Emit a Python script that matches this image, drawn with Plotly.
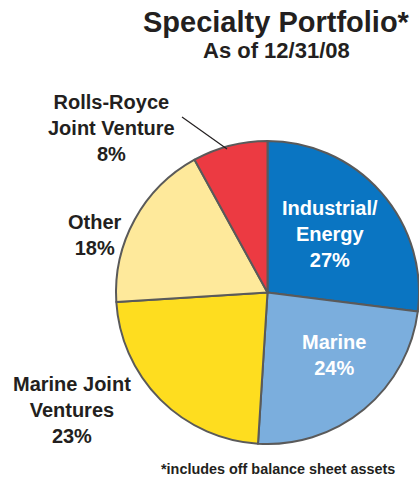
import plotly.graph_objects as go

W, H = 419, 478

labels = ["Industrial/<br>Energy", "Marine", "Marine Joint<br>Ventures", "Other", "Rolls-Royce<br>Joint Venture"]
values = [27, 24, 23, 18, 8]
colors = ["#0A75C2", "#7BAEDD", "#FEDD1F", "#FEE99B", "#EC3A42"]
text_colors = ["white", "white", "#231F20", "#231F20", "#231F20"]
# label centre positions in pixels (x from left, y from top)
label_pos = [(330, 234), (334, 355), (72, 410), (95, 235), (111, 128)]

title = "Specialty Portfolio*"
subtitle = "As of 12/31/08"
footnote = "*includes off balance sheet assets"

def px(x):
    return x / W

def py(y):
    return 1 - y / H

fig = go.Figure(go.Pie(
    labels=labels,
    values=values,
    sort=False,
    direction="clockwise",
    rotation=0,
    marker=dict(colors=colors, line=dict(color="#5A5A5A", width=2)),
    textinfo="none",
    hoverinfo="label+percent",
    showlegend=False,
    domain=dict(x=[px(116), px(419)], y=[py(444), py(141)]),
))

font_family = "Liberation Sans, Arial, sans-serif"
annotations = []
for lab, val, tc, (x, y) in zip(labels, values, text_colors, label_pos):
    annotations.append(dict(
        x=px(x), y=py(y), xref="paper", yref="paper",
        text=f"<b>{lab}<br>{val}%</b>", showarrow=False,
        xanchor="center", yanchor="middle", align="center",
        font=dict(family=font_family, size=20, color=tc),
    ))
annotations += [
    dict(x=px(276), y=py(22), xref="paper", yref="paper", text=f"<b>{title}</b>",
         showarrow=False, xanchor="center", yanchor="middle",
         font=dict(family=font_family, size=29, color="#231F20")),
    dict(x=px(276), y=py(50), xref="paper", yref="paper", text=f"<b>{subtitle}</b>",
         showarrow=False, xanchor="center", yanchor="middle",
         font=dict(family=font_family, size=22, color="#231F20")),
    dict(x=px(278), y=py(469), xref="paper", yref="paper", text=f"<b>{footnote}</b>",
         showarrow=False, xanchor="center", yanchor="middle",
         font=dict(family=font_family, size=14.4, color="#231F20")),
]

fig.update_layout(
    width=W, height=H,
    margin=dict(l=0, r=0, t=0, b=0),
    paper_bgcolor="white",
    plot_bgcolor="white",
    annotations=annotations,
    shapes=[dict(type="line", xref="paper", yref="paper",
                 x0=px(182), y0=py(117), x1=px(227), y1=py(149),
                 line=dict(color="#231F20", width=1.2))],
)

fig.write_html("out.html")
